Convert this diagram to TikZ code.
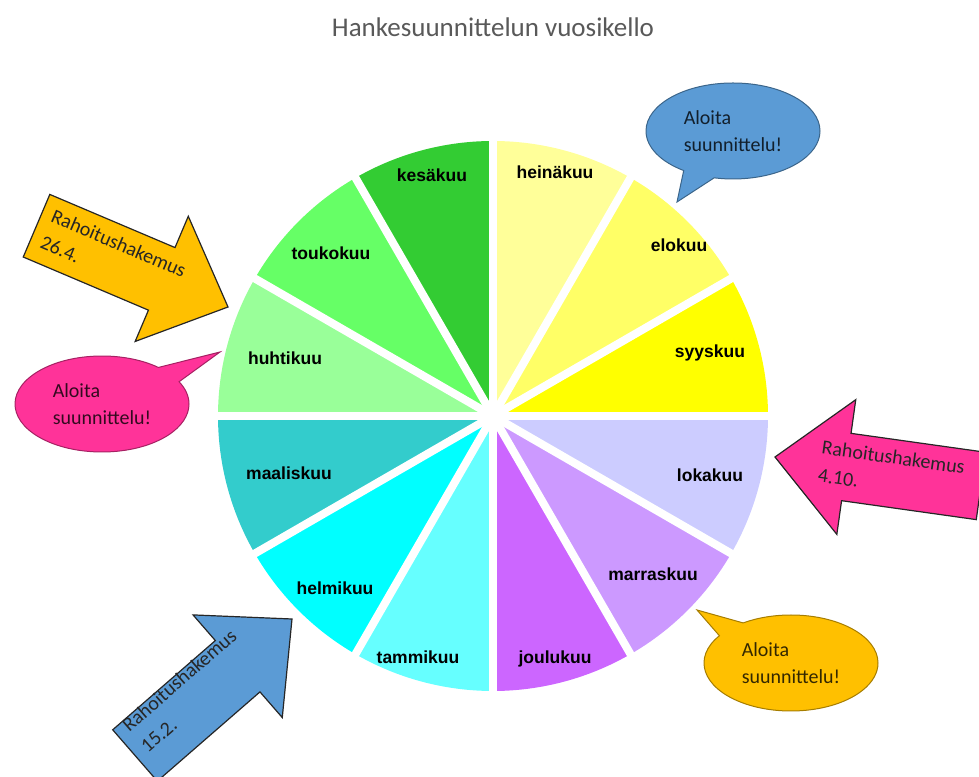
\documentclass[tikz,border=0pt]{standalone}
\usepackage{fontspec}
\setmainfont{Carlito}
\newfontfamily\kuufont{Liberation Sans}
\usetikzlibrary{shapes.callouts}
\definecolor{heinavari}{HTML}{FFFF99}
\definecolor{elovari}{HTML}{FFFF66}
\definecolor{syysvari}{HTML}{FFFF00}
\definecolor{lokavari}{HTML}{CCCCFF}
\definecolor{marrasvari}{HTML}{CC99FF}
\definecolor{jouluvari}{HTML}{CC66FF}
\definecolor{tammivari}{HTML}{66FFFF}
\definecolor{helmivari}{HTML}{00FFFF}
\definecolor{maalisvari}{HTML}{33CCCC}
\definecolor{huhtivari}{HTML}{99FF99}
\definecolor{toukovari}{HTML}{66FF66}
\definecolor{kesavari}{HTML}{33CC33}
\definecolor{kuplasini}{HTML}{5B9BD5}
\definecolor{kuplapinkki}{HTML}{FF3399}
\definecolor{kuplaoranssi}{HTML}{FFC000}
\tikzset{
	otsikko/.style={font=\fontsize{27}{32}\selectfont, text=black!65, inner sep=0pt},
	kuuteksti/.style={font=\kuufont\bfseries\fontsize{17.5}{20}\selectfont, inner sep=0pt},
	rako/.style={white, line width=8},
	puhekupla/.style={
		ellipse callout,
		draw=#1!65!black, fill=#1, line width=1,
		minimum width=174, minimum height=96,
		callout pointer arc=22,
		align=left, text=#1!20!black,
		font=\fontsize{20}{27}\selectfont},
	nuolireuna/.style={draw=black!85, line width=1.2, line join=miter},
	nuoliteksti/.style={anchor=west, align=left, inner sep=0pt, text=black!85,
		font=\fontsize{20}{28}\selectfont},
	pics/nuoli/.style={code={
		\draw[nuolireuna, fill=#1] (0,0) -- (-72,68) -- (-72,34) -- (-208,34)
			-- (-208,-34) -- (-72,-34) -- (-72,-68) -- cycle;
	}},
}
\begin{document}
\begin{tikzpicture}[x=1pt, y=1pt]
	\useasboundingbox (0,0) rectangle (979,776);
	\node[otsikko] (otsikko) at (493,749) {Hankesuunnittelun vuosikello};
	
	% vuosikello
	\coordinate (keskus) at (493,360);
	\foreach \vari [count=\k from 0] in {heinavari,elovari,syysvari,lokavari,marrasvari,jouluvari,tammivari,helmivari,maalisvari,huhtivari,toukovari,kesavari}
		\fill[\vari] (keskus) -- ++({90-30*\k}:275) arc[start angle={90-30*\k}, delta angle=-30, radius=275] -- cycle;
	\foreach \a in {0,30,...,330}
		\draw[rako] (keskus) -- ++(\a:282);
	
	\foreach \nimi/\teksti/\paikka in {
		heina/heinäkuu/{(555,604)}, elo/elokuu/{(679,531)}, syys/syyskuu/{(710,423)},
		loka/lokakuu/{(710,301)}, marras/marraskuu/{(653,202)}, joulu/joulukuu/{(555,117)},
		tammi/tammikuu/{(418,119)}, helmi/helmikuu/{(335,188)}, maalis/maaliskuu/{(289,303)},
		huhti/huhtikuu/{(285,418)}, touko/toukokuu/{(331,523)}, kesa/kesäkuu/{(432,601)}}
		\node[kuuteksti] (\nimi) at \paikka {\teksti};
	
	% puhekuplat
	\node[puhekupla=kuplasini, callout absolute pointer={(677,574)}] (kupla1) at (733,645) {Aloita\\suunnittelu!};
	\node[puhekupla=kuplapinkki, callout absolute pointer={(220,424)}] (kupla2) at (102,372) {Aloita\\suunnittelu!};
	\node[puhekupla=kuplaoranssi, callout absolute pointer={(697,166)}] (kupla3) at (791,113) {Aloita\\suunnittelu!};
	
	% hakuajat
	\pic[rotate=-23] at (228,469) {nuoli=kuplaoranssi};
	\node[nuoliteksti, rotate=-23] (haku1) at (47,548) {Rahoitushakemus\\26.4.};
	\pic[rotate=172] at (775,319) {nuoli=kuplapinkki};
	\node[nuoliteksti, rotate=-8] (haku2) at (820,315) {Rahoitushakemus\\4.10.};
	\pic[rotate=41] at (292,157) {nuoli=kuplasini};
	\node[nuoliteksti, rotate=41] (haku3) at (134,38) {Rahoitushakemus\\15.2.};
\end{tikzpicture}
\end{document}
